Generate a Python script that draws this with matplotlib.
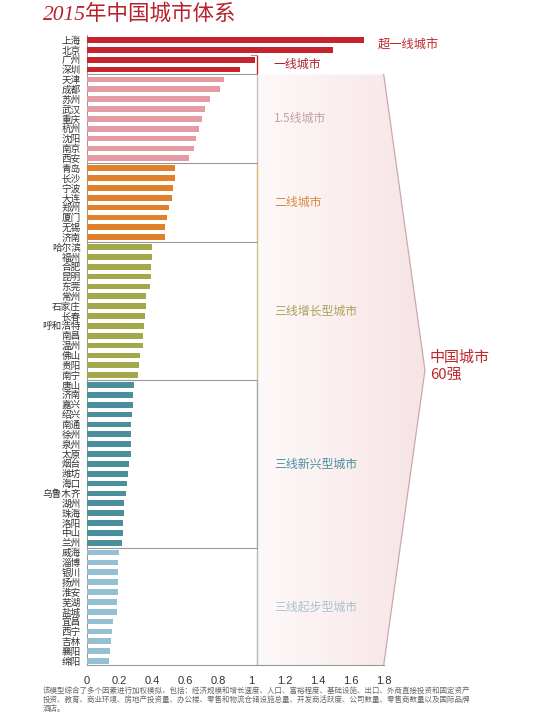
import matplotlib
matplotlib.use('Agg')
import matplotlib.pyplot as plt
import numpy as np
from matplotlib.patches import Polygon

plt.rcParams['font.family'] = ['Noto Sans CJK SC', 'DejaVu Sans']

# ---------------- data ----------------
cities = ['上海', '北京',
          '广州', '深圳',
          '天津', '成都', '苏州', '武汉', '重庆', '杭州', '沈阳', '南京', '西安',
          '青岛', '长沙', '宁波', '大连', '郑州', '厦门', '无锡', '济南',
          '哈尔滨', '福州', '合肥', '昆明', '东莞', '常州', '石家庄', '长春', '呼和浩特',
          '南昌', '温州', '佛山', '贵阳', '南宁',
          '唐山', '济南', '嘉兴', '绍兴', '南通', '徐州', '泉州', '太原', '烟台', '潍坊',
          '海口', '乌鲁木齐', '湖州', '珠海', '洛阳', '中山', '兰州',
          '威海', '淄博', '银川', '扬州', '淮安', '芜湖', '盐城', '宜昌', '西宁', '吉林',
          '襄阳', '绵阳']
values = [1.68, 1.49,
          1.02, 0.93,
          0.83, 0.81, 0.75, 0.72, 0.70, 0.68, 0.665, 0.65, 0.62,
          0.537, 0.537, 0.525, 0.519, 0.499, 0.485, 0.473, 0.473,
          0.396, 0.396, 0.39, 0.39, 0.384, 0.357, 0.357, 0.351, 0.345,
          0.339, 0.339, 0.325, 0.319, 0.313,
          0.287, 0.281, 0.281, 0.275, 0.268, 0.268, 0.268, 0.268, 0.256, 0.25,
          0.242, 0.236, 0.228, 0.228, 0.222, 0.222, 0.212,
          0.196, 0.192, 0.192, 0.192, 0.192, 0.186, 0.186, 0.159, 0.153, 0.147,
          0.141, 0.135]
group_names = ['超一线城市', '一线城市', '1.5线城市', '二线城市',
               '三线增长型城市', '三线新兴型城市', '三线起步型城市']
group_sizes = [2, 2, 9, 8, 14, 17, 12]
x_ticks = [0, 0.2, 0.4, 0.6, 0.8, 1.0, 1.2, 1.4, 1.6, 1.8]
x_tick_labels = ['0', '0.2', '0.4', '0.6', '0.8', '1', '1.2', '1.4', '1.6', '1.8']
title = '2015年中国城市体系'
total_label = '中国城市\n60强'
footnote_lines = [
    '该模型综合了多个因素进行加权模拟，包括：经济规模和增长速度、人口、富裕程度、基础设施、出口、外商直接投资和固定资产',
    '投资、教育、商业环境、房地产投资量、办公楼、零售和物流仓储设施总量、开发商活跃度、公司数量、零售商数量以及国际品牌',
    '酒店。',
]

# ---------------- style ----------------
bar_colors = ['#c8232c', '#c8232c', '#e59ba4', '#e0802b',
              '#a3a84a', '#4b8e9c', '#95c0d3']
label_colors = ['#c0272d', '#b0202a', '#c4a0a8', '#d98a3a',
                '#a8a35a', '#4a8fa0', '#a9c2d0']
bracket_colors = ['#c0272d', '#c0272d', '#c8c0c4', '#d9b07a',
                  '#c9c48e', '#9aa8ac', '#b0b8bc']

W, H = 550, 713
fig = plt.figure(figsize=(W / 100, H / 100), dpi=100)
x0_px, top_px, bot_px = 86.7, 35, 665
ax = fig.add_axes([x0_px / W, (H - bot_px) / H, 1 - x0_px / W, (bot_px - top_px) / H])

n = len(cities)
group_of = np.repeat(np.arange(len(group_names)), group_sizes)
ypos = np.arange(n)
ytop, ybot = -0.5, n - 0.6
px_per_unit = 165.0
xmax = (W - x0_px) / px_per_unit

XB = 1.032
bounds = np.cumsum([0] + group_sizes) - 0.5   # group edges
peak_y = 33.5

# pink arrow-like region with horizontal gradient
poly_xy = [(XB, bounds[2]), (1.8, bounds[2]), (2.05, peak_y), (1.8, ybot), (XB, ybot)]
poly = Polygon(poly_xy, closed=True, facecolor='none', edgecolor='none', zorder=0)
ax.add_patch(poly)
grad = np.linspace(0, 1, 256)
c0 = np.array([0.995, 0.978, 0.978])
c1 = np.array([0.968, 0.892, 0.896])
img = c0[None, None, :] * (1 - grad[None, :, None]) + c1[None, None, :] * grad[None, :, None]
im = ax.imshow(img, extent=(XB, 2.05, ybot, bounds[2]), aspect='auto', zorder=0,
               interpolation='bilinear')
im.set_clip_path(poly)
ax.plot([1.8, 2.05, 1.8], [bounds[2], peak_y, ybot], color='#c9a9ad', lw=0.9, zorder=1)

# bars
ax.barh(ypos, values, height=0.58, color=[bar_colors[g] for g in group_of], zorder=3)

# separators & brackets
for b in bounds[2:-1]:
    ax.plot([0, XB], [b, b], color='#9a9a9a', lw=0.8, zorder=2)
for gi in range(1, len(group_names)):
    t = bounds[gi] + 0.1
    bt = min(bounds[gi + 1], ybot) - 0.1
    ax.plot([XB, XB], [t, bt], color=bracket_colors[gi], lw=1.0, zorder=2)
ax.plot([0.995, XB], [bounds[1], bounds[1]], color='#9a9a9a', lw=0.8, zorder=2)

# group labels
for gi, name in enumerate(group_names):
    mid = (bounds[gi] + bounds[gi + 1]) / 2
    if gi == 0:
        ax.text(1.765, mid, name, fontsize=8.8, color=label_colors[gi], va='center', ha='left')
    else:
        ax.text(1.135, mid, name, fontsize=8.6, color=label_colors[gi], va='center', ha='left')

ax.text(2.08, peak_y - 0.4, total_label, fontsize=10.8, color='#c0272d', va='center',
        ha='left', linespacing=1.25)

# axes styling
ax.set_xlim(0, xmax)
ax.set_ylim(ybot, ytop)
for s in ['top', 'right']:
    ax.spines[s].set_visible(False)
ax.spines['left'].set_color('#999999')
ax.spines['bottom'].set_color('#999999')
ax.spines['bottom'].set_bounds(0, 1.8)
ax.set_xticks(x_ticks)
ax.set_xticklabels(x_tick_labels, family=['Liberation Sans', 'DejaVu Sans'])
ax.tick_params(axis='x', length=0, pad=8, labelsize=8, labelcolor='#333333')
ax.set_yticks(ypos)
ax.set_yticklabels(cities)
ax.tick_params(axis='y', length=0, pad=4.3, labelsize=6.9, labelcolor='#333333')
ax.patch.set_alpha(0)

# title
fig.text(43 / W, 1 - 19.5 / H, title, family=['Liberation Serif', 'Noto Sans CJK SC'],
         style='italic', fontsize=15.5, color='#b8232f', va='baseline', ha='left')

# footnote
for i, line in enumerate(footnote_lines):
    fig.text(43 / W, 1 - (690.5 + 9 * i) / H, line, fontsize=5.4, color='#666666',
             va='center', ha='left')

fig.savefig('out.png', dpi=100)
